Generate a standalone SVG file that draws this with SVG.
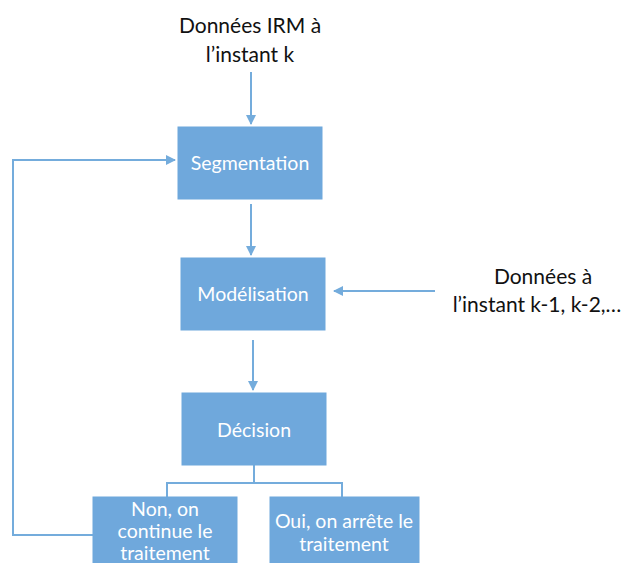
<svg xmlns="http://www.w3.org/2000/svg" width="638" height="563" viewBox="0 0 638 563">
<defs>
<style>
.box{fill:#6fa8dc;stroke:#6fa8dc;}
.lbl{font-family:Lato,"Open Sans","Liberation Sans",sans-serif;font-size:19.5px;fill:#ffffff;text-anchor:middle;}
.ext{font-family:Lato,"Open Sans","Liberation Sans",sans-serif;font-size:21px;fill:#111111;text-anchor:middle;}
.ln{fill:none;stroke:#74acdc;stroke-width:2;}
</style>
<marker id="ah" viewBox="0 0 10 10" refX="9" refY="5" markerWidth="5" markerHeight="5" orient="auto">
<path d="M0,0 L10,5 L0,10 z" fill="#74acdc"/>
</marker>
</defs>
<rect width="638" height="563" fill="#ffffff"/>
<g id="connectors">
<line class="ln" x1="251" y1="72" x2="251" y2="124" marker-end="url(#ah)"/>
<line class="ln" x1="251" y1="204" x2="251" y2="255" marker-end="url(#ah)"/>
<line class="ln" x1="435" y1="291" x2="334" y2="291" marker-end="url(#ah)"/>
<line class="ln" x1="253" y1="340" x2="253" y2="390" marker-end="url(#ah)"/>
<polyline class="ln" points="254,465 254,483"/>
<polyline class="ln" points="167,497 167,483 342,483 342,497"/>
<polyline class="ln" points="93,535 13,535 13,160 175,160" marker-end="url(#ah)"/>
</g>
<g id="input-irm">
<text class="ext" x="250" y="33">Données IRM à</text>
<text class="ext" x="250" y="62">l’instant k</text>
</g>
<g id="input-prev">
<text class="ext" x="543" y="284">Données à</text>
<text class="ext" x="537" y="312">l’instant k-1, k-2,…</text>
</g>
<g id="segmentation">
<rect class="box" x="178" y="127" width="144" height="72"/>
<text class="lbl" x="250" y="170">Segmentation</text>
</g>
<g id="modelisation">
<rect class="box" x="181" y="258" width="144" height="72"/>
<text class="lbl" x="253" y="301">Modélisation</text>
</g>
<g id="decision">
<rect class="box" x="182" y="393" width="144" height="72"/>
<text class="lbl" x="254" y="437">Décision</text>
</g>
<g id="non">
<rect class="box" x="93" y="497" width="144" height="80"/>
<text class="lbl" x="165" y="516">Non, on</text>
<text class="lbl" x="165" y="538">continue le</text>
<text class="lbl" x="165" y="560">traitement</text>
</g>
<g id="oui">
<rect class="box" x="270" y="497" width="149" height="80"/>
<text class="lbl" x="344" y="528">Oui, on arrête le</text>
<text class="lbl" x="344" y="551">traitement</text>
</g>
</svg>
